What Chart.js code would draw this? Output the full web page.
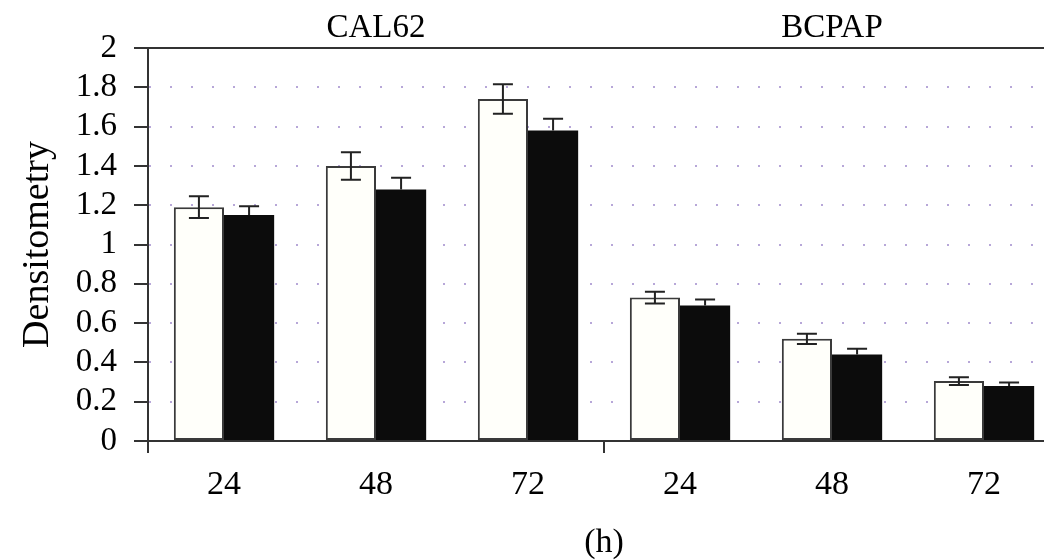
<!DOCTYPE html>
<html>
<head>
<meta charset="utf-8">
<script src="https://cdn.jsdelivr.net/npm/chart.js@4"></script>
<style>
  html, body { margin: 0; padding: 0; background: #fff; overflow: hidden; }
  #wrap { width: 1044px; height: 560px; overflow: hidden; }
</style>
</head>
<body>
<div id="wrap"><canvas id="densChart" width="1060" height="560"></canvas></div>
<script>
const hours = ["24", "48", "72", "24", "48", "72"];
const groups = ["CAL62", "BCPAP"];
const whiteValues = [1.19, 1.40, 1.74, 0.73, 0.52, 0.305];
const whiteErrors = [0.055, 0.07, 0.075, 0.03, 0.026, 0.02];
const blackValues = [1.15, 1.28, 1.58, 0.69, 0.44, 0.28];
const blackErrors = [0.045, 0.06, 0.06, 0.03, 0.03, 0.018];

const serif = "'Liberation Serif', 'DejaVu Serif', serif";
const ink = "#000";

// error bars, group names and the solid top line
const extras = {
  id: "extras",
  afterDatasetsDraw(chart) {
    const ctx = chart.ctx;
    const y = chart.scales.y;
    const x = chart.scales.x;
    const errs = [whiteErrors, blackErrors];
    ctx.save();
    ctx.strokeStyle = "#222";
    ctx.lineWidth = 2;
    chart.data.datasets.forEach((ds, di) => {
      chart.getDatasetMeta(di).data.forEach((bar, i) => {
        const v = ds.data[i], e = errs[di][i];
        const top = y.getPixelForValue(v + e);
        const bot = y.getPixelForValue(v - e);
        ctx.beginPath();
        ctx.moveTo(bar.x - 10, top); ctx.lineTo(bar.x + 10, top);
        ctx.moveTo(bar.x, top);
        if (di === 0) {
          ctx.lineTo(bar.x, bot);
          ctx.moveTo(bar.x - 10, bot); ctx.lineTo(bar.x + 10, bot);
        } else {
          // lower half is hidden inside the black bar
          ctx.lineTo(bar.x, y.getPixelForValue(v));
        }
        ctx.stroke();
      });
    });
    // top frame line
    const yTop = y.getPixelForValue(2);
    ctx.strokeStyle = "#333";
    ctx.beginPath();
    ctx.moveTo(chart.chartArea.left, yTop);
    ctx.lineTo(chart.chartArea.right, yTop);
    ctx.stroke();
    // group labels over the middle category
    ctx.fillStyle = ink;
    ctx.font = "33px " + serif;
    ctx.textAlign = "center";
    ctx.textBaseline = "alphabetic";
    ctx.fillText(groups[0], x.getPixelForValue(1), 37);
    ctx.fillText(groups[1], x.getPixelForValue(4), 37);
    ctx.restore();
  }
};

new Chart(document.getElementById("densChart"), {
  type: "bar",
  data: {
    labels: hours,
    datasets: [
      {
        label: "white",
        data: whiteValues,
        backgroundColor: "#fffffa",
        borderColor: "#3a3a3a",
        borderWidth: 2,
        borderSkipped: false
      },
      {
        label: "black",
        data: blackValues,
        backgroundColor: "#0c0c0c",
        borderColor: "#0c0c0c",
        borderWidth: 0
      }
    ]
  },
  options: {
    responsive: false,
    animation: false,
    layout: { padding: { top: 48, left: 0, right: 0, bottom: 0 } },
    datasets: { bar: { categoryPercentage: 0.66, barPercentage: 1 } },
    plugins: { legend: { display: false }, tooltip: { enabled: false } },
    scales: {
      x: {
        afterFit: s => { s.height = 119; },
        grid: {
          drawOnChartArea: false,
          tickLength: 12,
          lineWidth: 2,
          color: c => (c.index === 0 || c.index === 3 || c.index === 6) ? "#333" : "rgba(0,0,0,0)",
          tickColor: c => (c.index === 0 || c.index === 3 || c.index === 6) ? "#333" : "rgba(0,0,0,0)"
        },
        border: { color: "#333", width: 2 },
        ticks: { color: ink, font: { family: serif, size: 34 }, padding: 12 },
        title: {
          display: true,
          text: "(h)",
          color: ink,
          font: { family: serif, size: 34 },
          padding: { top: 0, bottom: -3 }
        }
      },
      y: {
        min: 0,
        max: 2,
        afterFit: s => { s.width = 148; },
        grid: {
          lineWidth: 2,
          color: c => (c.tick && (c.tick.value === 0 || c.tick.value === 2)) ? "rgba(0,0,0,0)" : "#b7a7d8",
          tickColor: "#333",
          tickLength: 14,
          tickBorderDash: []
        },
        border: { color: "#333", width: 2, dash: [2, 19] },
        ticks: {
          stepSize: 0.2,
          autoSkip: false,
          color: ink,
          padding: 17,
          font: { family: serif, size: 33 },
          callback: v => String(+v.toFixed(1))
        },
        title: {
          display: true,
          text: "Densitometry",
          color: ink,
          font: { family: serif, size: 38 },
          padding: { top: 15, bottom: 0 }
        }
      }
    }
  },
  plugins: [extras]
});
</script>
</body>
</html>
